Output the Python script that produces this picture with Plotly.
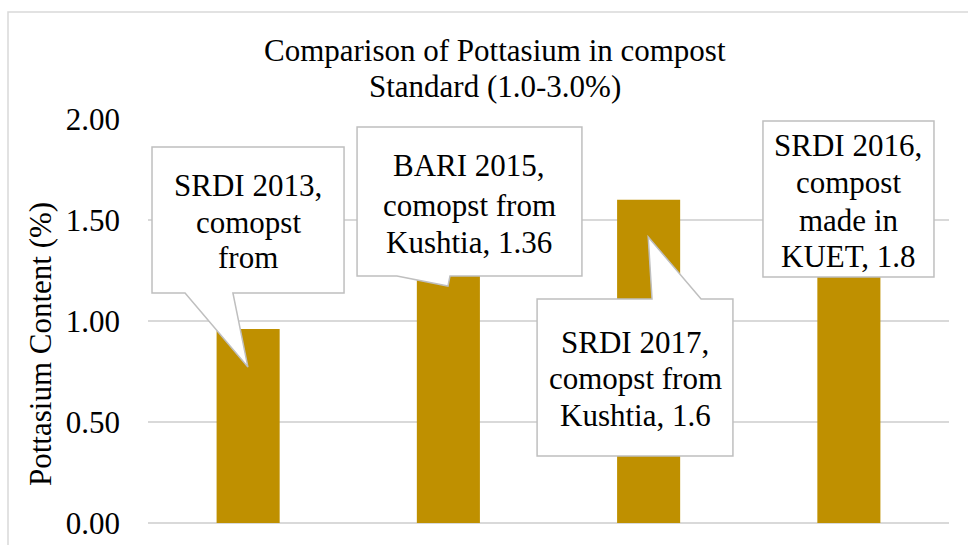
import plotly.graph_objects as go

# ---- data ----
categories = ["SRDI 2013", "BARI 2015", "SRDI 2017", "SRDI 2016"]
potassium = [0.96, 1.36, 1.6, 1.8]
y_ticks = [0.0, 0.5, 1.0, 1.5, 2.0]
callout_lines = [
    ["SRDI 2013,", "comopst", "from"],
    ["BARI 2015,", "comopst from", "Kushtia, 1.36"],
    ["SRDI 2017,", "comopst from", "Kushtia, 1.6"],
    ["SRDI 2016,", "compost", "made in", "KUET, 1.8"],
]
title_lines = ["Comparison of Pottasium in compost", "Standard (1.0-3.0%)"]
y_title = "Pottasium Content (%)"

# ---- layout geometry (in axis units) ----
# box: x0, x1, y0 (bottom), y1 (top); pointer: (edge, base_left, base_right, tip_x, tip_y)
callout_geom = [
    dict(box=(-0.480, 0.479, 1.139, 1.861), ptr=("bottom", -0.315, -0.076, -0.001, 0.772),
         tx=0.0, ty=[1.673, 1.490, 1.312]),
    dict(box=(0.544, 1.667, 1.223, 1.960), ptr=("bottom", 0.743, 1.008, 0.998, 1.173),
         tx=1.105, ty=[1.772, 1.574, 1.391]),
    dict(box=(1.443, 2.421, 0.332, 1.109), ptr=("top", 2.017, 2.262, 1.998, 1.416),
         tx=1.932, ty=[0.896, 0.713, 0.530]),
    dict(box=(2.571, 3.425, 1.218, 1.990), ptr=None,
         tx=2.998, ty=[1.871, 1.688, 1.500, 1.317]),
]

FONT = "serif"
FS = 31
BAR_COLOR = "#BF9000"
GRID = "#d9d9d9"
BORDER = "#bfbfbf"

W, H = 968, 545
ML, MR, MT, MB = 148, 19, 119, 22
PW, PH = W - ML - MR, H - MT - MB


def px_x(px):
    return (px - ML) / PW


def px_y(py):
    return (H - MB - py) / PH


fig = go.Figure()
fig.add_trace(go.Bar(
    x=list(range(len(categories))), y=potassium, width=0.315,
    marker=dict(color=BAR_COLOR, line=dict(width=0)),
    hovertext=categories, name="Potassium",
))

shapes = [
    # outer chart border
    dict(type="rect", xref="paper", yref="paper",
         x0=px_x(8), x1=px_x(990), y0=px_y(570), y1=px_y(12),
         line=dict(color=GRID, width=1.5), fillcolor="rgba(0,0,0,0)", layer="below"),
]

annotations = []
for geom, lines in zip(callout_geom, callout_lines):
    x0, x1, y0, y1 = geom["box"]
    p = geom["ptr"]
    if p is None:
        path = f"M{x0},{y1} L{x1},{y1} L{x1},{y0} L{x0},{y0} Z"
    elif p[0] == "bottom":
        _, bl, br, tx_, ty_ = p
        path = (f"M{x0},{y1} L{x1},{y1} L{x1},{y0} L{br},{y0} L{tx_},{ty_} "
                f"L{bl},{y0} L{x0},{y0} Z")
    else:
        _, bl, br, tx_, ty_ = p
        path = (f"M{x0},{y1} L{bl},{y1} L{tx_},{ty_} L{br},{y1} L{x1},{y1} "
                f"L{x1},{y0} L{x0},{y0} Z")
    shapes.append(dict(type="path", xref="x", yref="y", path=path,
                       fillcolor="white", line=dict(color=BORDER, width=1.5),
                       layer="above"))
    for line, ty in zip(lines, geom["ty"]):
        annotations.append(dict(
            x=geom["tx"], y=ty, xref="x", yref="y", text=line, showarrow=False,
            xanchor="center", yanchor="middle",
            font=dict(family=FONT, size=FS, color="black")))

for line, py in zip(title_lines, [50, 87]):
    annotations.append(dict(
        x=px_x(495), y=px_y(py), xref="paper", yref="paper", text=line,
        showarrow=False, xanchor="center", yanchor="middle",
        font=dict(family=FONT, size=FS, color="black")))

annotations.append(dict(
    x=px_x(40), y=px_y(344), xref="paper", yref="paper", text=y_title,
    showarrow=False, textangle=-90, xanchor="center", yanchor="middle",
    font=dict(family=FONT, size=FS, color="black")))

fig.update_layout(
    width=W, height=H,
    margin=dict(l=ML, r=MR, t=MT, b=MB, pad=0, autoexpand=False),
    paper_bgcolor="white", plot_bgcolor="white",
    showlegend=False,
    font=dict(family=FONT),
    shapes=shapes, annotations=annotations,
    xaxis=dict(range=[-0.5, 3.5], showticklabels=False, showgrid=False,
               zeroline=False, showline=False, ticks="", automargin=False),
    yaxis=dict(range=[0, 2], tickvals=y_ticks,
               ticktext=[f"{v:.2f}" for v in y_ticks],
               showgrid=True, gridcolor=GRID, gridwidth=1.5,
               zeroline=True, zerolinecolor=GRID, zerolinewidth=1.5,
               showline=False, ticks="", ticklabelstandoff=27, automargin=False,
               tickfont=dict(family=FONT, size=FS, color="black")),
)

fig.write_html("out.html")
